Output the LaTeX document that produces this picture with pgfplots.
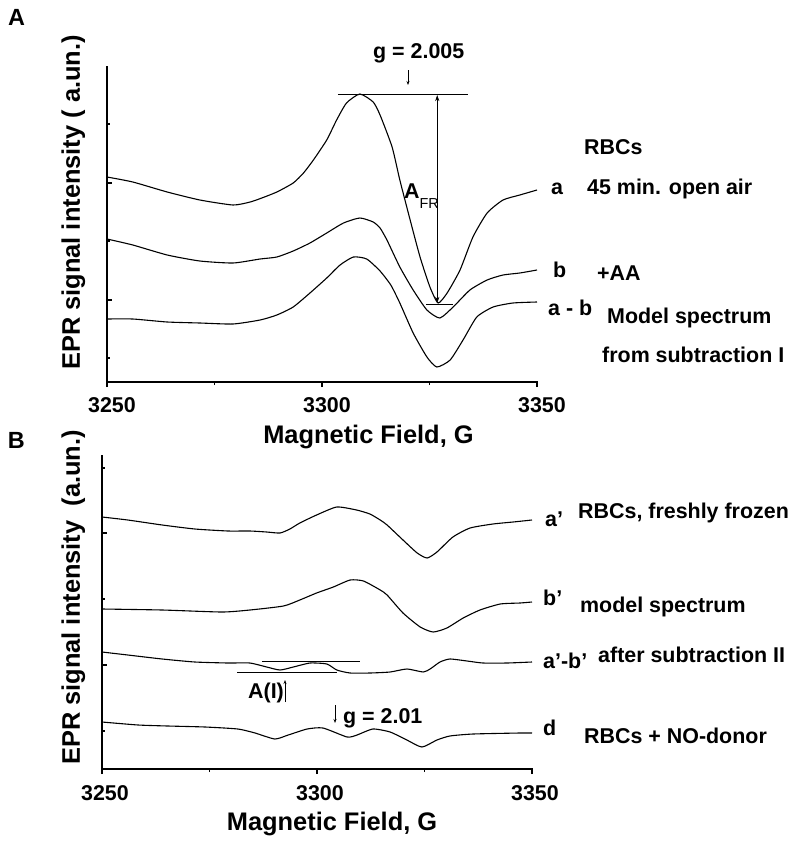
\documentclass[border=0pt]{standalone}
\usepackage{fontspec}
\setmainfont{Liberation Sans}
\usepackage{pgfplots}
\pgfplotsset{compat=1.18}
\usetikzlibrary{arrows.meta}
\newcommand\lbl{\fontsize{21.5}{24}\selectfont\bfseries}
\newcommand\axlbl{\fontsize{25.5}{28}\selectfont\bfseries}
\newcommand\panlbl{\fontsize{23.5}{26}\selectfont\bfseries}
\tikzset{ann/.style={line width=0.8bp, black}, axl/.style={line width=2.4bp, black, line cap=rect}}
\pgfplotsset{
  epr/.style={
    scale only axis, width=430bp, clip=false,
    xmin=3250, xmax=3350, ymin=0,
    axis lines*=left,
    axis line style={line width=2.4bp, black},
    xtick={3250,3300,3350}, minor xtick={3275,3325},
    yticklabels={},
    tick align=outside,
    major tick length=5bp, minor tick length=3bp,
    every tick/.append style={line width=1.6bp, black},
    tick style={line width=1.6bp, black},
    every major y tick/.append style={xshift=5bp},
    every minor y tick/.append style={xshift=3bp},
    /pgf/number format/1000 sep={},
    /pgf/number format/assume math mode=true,
    xticklabel style={font=\lbl, anchor=base},
    xlabel style={font=\axlbl, anchor=base},
    ylabel style={font=\axlbl, anchor=base},
    cycle list={{black}},
    every axis plot/.append style={line width=1.1bp, black, no markers, smooth, tension=0.35},
  },
}
\begin{document}
\begin{tikzpicture}
\useasboundingbox (0,0) rectangle (797bp,-841bp);
% ---------------- Panel A ----------------
\begin{axis}[epr, at={(107bp,-382bp)}, anchor=south west, height=315bp,
  ymax=315, ytick={82,199}, minor ytick={24,141,258},
  xticklabel style={yshift=-25bp, xshift=5bp},
  xlabel={Magnetic Field, G},
  xlabel style={at={(axis description cs:0.6081,-0.1937)}},
  ylabel={EPR signal intensity ( a.un.)},
  ylabel style={at={(axis description cs:-0.0628,0.5698)}},
]
\draw[axl] (rel axis cs:0,1) -- (rel axis cs:0,0) -- (rel axis cs:1,0);
% curve a: 45 min open air
\addplot coordinates {(3250,205) (3256,200) (3264,190) (3271.6,182) (3279.3,177) (3283.3,180) (3286,184) (3289.5,190) (3293.3,199) (3295.7,209) (3298.0,222) (3301.1,242) (3303.4,262) (3305.7,279) (3308.8,288) (3311.9,280) (3313.5,267) (3316.3,235) (3318.1,202) (3320.5,162) (3322.8,125) (3325.1,95) (3327.0,79) (3329.1,89) (3332.1,112) (3335.1,145) (3338.4,169) (3342.1,182) (3346.0,187) (3350,192)};
% curve b: +AA
\addplot coordinates {(3250,143) (3256,137) (3264,127) (3271.6,121) (3279.3,119) (3285.6,123) (3289.5,125) (3293.3,131) (3297.2,139) (3301.1,149) (3305.0,159) (3308.8,164) (3311.9,160) (3313.5,154) (3315.1,142) (3318.1,115) (3321.2,92) (3324.4,72) (3327.4,64) (3330.5,75) (3334.4,92) (3338.4,102) (3342.1,107) (3346.0,109) (3350,112)};
% curve a-b
\addplot coordinates {(3250,63) (3256,63) (3264,60) (3271.6,59) (3279.3,58) (3285.6,62) (3289.5,67) (3293.3,75) (3297.2,89) (3301.1,104) (3304.2,117) (3307.3,125) (3310.4,123) (3313.5,111) (3316,97) (3318.1,79) (3321.2,49) (3324.4,25) (3326.7,15) (3329.8,22) (3332.8,42) (3336.0,65) (3339.8,75) (3344.4,79) (3350,80)};
% annotations
\draw[ann] (axis cs:3303.7,288) -- (axis cs:3334.0,288);
\draw[ann] (axis cs:3324.3,78) -- (axis cs:3330.5,78);
\draw[ann, {Stealth[length=6bp,width=4bp]}-{Stealth[length=6bp,width=4bp]}] (axis cs:3326.8,287) -- (axis cs:3326.8,79);
\draw[ann, -{Stealth[length=4bp,width=3bp]}] (axis cs:3320.0,312) -- (axis cs:3320.0,297);
\node[font=\lbl, anchor=base west, inner sep=0] at (axis cs:3311.86,324) {g = 2.005};
\node[font=\lbl, anchor=base west, inner sep=0] at (axis cs:3319.07,184) {A\textmd{\fontsize{14.5}{16}\selectfont\raisebox{-10bp}{FR}}};
\node[font=\lbl, anchor=base west, inner sep=0] at (axis cs:3360.93,228) {RBCs};
\node[font=\lbl, anchor=base west, inner sep=0] at (axis cs:3353.26,188) {a};
\node[font=\lbl, anchor=base west, inner sep=0] at (axis cs:3361.63,188) {45 min. open air};
\node[font=\lbl, anchor=base west, inner sep=0] at (axis cs:3353.72,105) {b};
\node[font=\lbl, anchor=base west, inner sep=0] at (axis cs:3363.95,102) {+AA};
\node[font=\lbl, anchor=base west, inner sep=0] at (axis cs:3352.56,67) {a - b};
\node[font=\lbl, anchor=base west, inner sep=0] at (axis cs:3366.28,59) {Model spectrum};
\node[font=\lbl, anchor=base west, inner sep=0] at (axis cs:3365.12,20) {from subtraction I};
\node[font=\panlbl, anchor=center, inner sep=0] at (axis cs:3228.95,364.5) {A};
\end{axis}
% ---------------- Panel B ----------------
\begin{axis}[epr, at={(102bp,-769bp)}, anchor=south west, height=313bp,
  ymax=313, ytick={104,236}, minor ytick={38,170,301},
  xticklabel style={yshift=-26.5bp, xshift=3bp},
  xlabel={Magnetic Field, G},
  xlabel style={at={(axis description cs:0.5349,-0.1949)}},
  ylabel={EPR signal intensity~~(a.un.)},
  ylabel style={at={(axis description cs:-0.0512,0.5479)}},
]
\draw[axl] (rel axis cs:0,1) -- (rel axis cs:0,0) -- (rel axis cs:1,0);
% a' RBCs freshly frozen
\addplot coordinates {(3250,252) (3256,249) (3264,244) (3271.6,240) (3279.3,238) (3284.4,238) (3288.3,237) (3291.4,236) (3293.7,240) (3296.0,246) (3299.9,254) (3304.6,262) (3309.2,259) (3312.3,255) (3314.7,249) (3316.3,244) (3320.0,229) (3323.3,216) (3325.6,211) (3327.9,217) (3331.6,232) (3335.6,241) (3340.9,245) (3345.6,247) (3350,249)};
% b' model spectrum
\addplot coordinates {(3250,160) (3264,159) (3277.9,157) (3284.4,159) (3292.2,163) (3296.0,169) (3299.9,176) (3303.8,182) (3307.7,189) (3310.8,188) (3314.7,179) (3316.3,174) (3320.0,156) (3324.0,142) (3327.0,137) (3330.2,141) (3334.0,151) (3337.9,159) (3342.6,165) (3347.2,166) (3350,167)};
% a'-b'
\addplot coordinates {(3250,117) (3256,114) (3264,110) (3271.6,107) (3279.3,106) (3284.4,106) (3288.3,102) (3291.4,99) (3294.5,102) (3298.4,106) (3302.3,105) (3304.6,99) (3307.7,96) (3312.3,96) (3317.0,97) (3320.9,100) (3324.7,97) (3326.3,100) (3328.6,107) (3330.9,110) (3334.9,108) (3338.6,106) (3344.2,106) (3350,107)};
% d RBCs + NO-donor
\addplot coordinates {(3250,47) (3258.4,44) (3265.3,43) (3274.0,42) (3281.6,40) (3285.6,36) (3290.2,30) (3293.3,34) (3297.7,40) (3301.4,41) (3307.0,32) (3309.3,34) (3313.0,40) (3317.0,37) (3320.9,29) (3324.4,22) (3327.9,29) (3330.9,33) (3336.3,35) (3347.2,36) (3350,36)};
% annotations
\draw[ann] (axis cs:3287.2,108) -- (axis cs:3310.0,108);
\draw[ann] (axis cs:3281.4,97) -- (axis cs:3304.7,97);
\draw[ann, -{Stealth[length=4bp,width=3bp]}] (axis cs:3292.56,67) -- (axis cs:3292.56,89);
\draw[ann, -{Stealth[length=4bp,width=3bp]}] (axis cs:3304.19,64) -- (axis cs:3304.19,46);
\node[font=\lbl, anchor=base west, inner sep=0] at (axis cs:3283.95,71) {A(I)};
\node[font=\lbl, anchor=base west, inner sep=0] at (axis cs:3306.05,46) {g = 2.01};
\node[font=\lbl, anchor=base west, inner sep=0] at (axis cs:3353.02,243) {a’};
\node[font=\lbl, anchor=base west, inner sep=0] at (axis cs:3360.70,251) {RBCs, freshly frozen};
\node[font=\lbl, anchor=base west, inner sep=0] at (axis cs:3352.56,164) {b’};
\node[font=\lbl, anchor=base west, inner sep=0] at (axis cs:3361.16,157) {model spectrum};
\node[font=\lbl, anchor=base west, inner sep=0] at (axis cs:3352.56,101) {a’-b’};
\node[font=\lbl, anchor=base west, inner sep=0] at (axis cs:3365.35,107) {after subtraction II};
\node[font=\lbl, anchor=base west, inner sep=0] at (axis cs:3352.56,34) {d};
\node[font=\lbl, anchor=base west, inner sep=0] at (axis cs:3362.09,26) {RBCs + NO-donor};
\node[font=\panlbl, anchor=center, inner sep=0] at (axis cs:3230.1,328.5) {B};
\end{axis}
\end{tikzpicture}
\end{document}
